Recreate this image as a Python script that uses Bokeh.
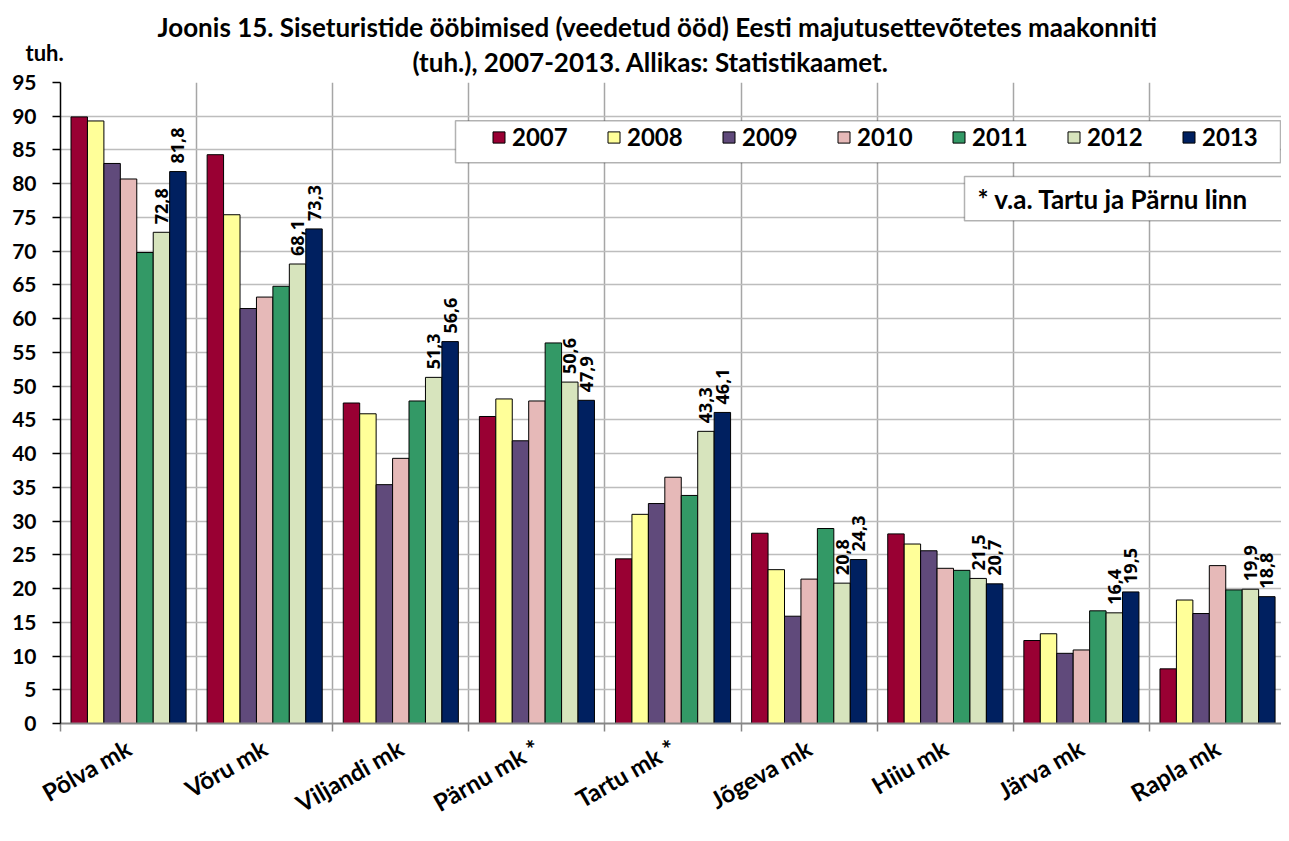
import math
from bokeh.plotting import figure
from bokeh.models import FixedTicker, Legend, LegendItem, Label, BoxAnnotation, Title
from bokeh.core.properties import value
from bokeh.embed import file_html
from bokeh.resources import INLINE

# ---------------- data ----------------
counties = ["Põlva mk", "Võru mk", "Viljandi mk", "Pärnu mk *", "Tartu mk *",
            "Jõgeva mk", "Hiiu mk", "Järva mk", "Rapla mk"]
years = ["2007", "2008", "2009", "2010", "2011", "2012", "2013"]
colors = ["#990033", "#FFFF99", "#604A7B", "#E6B9B8", "#339966", "#D7E4BD", "#002060"]

v2007 = [89.9, 84.3, 47.5, 45.5, 24.4, 28.2, 28.1, 12.3, 8.1]
v2008 = [89.3, 75.4, 45.9, 48.1, 31.0, 22.8, 26.6, 13.3, 18.3]
v2009 = [83.0, 61.5, 35.4, 41.9, 32.6, 15.9, 25.6, 10.4, 16.3]
v2010 = [80.7, 63.2, 39.3, 47.8, 36.5, 21.4, 23.0, 10.9, 23.4]
v2011 = [69.8, 64.8, 47.8, 56.4, 33.8, 28.9, 22.7, 16.7, 19.8]
v2012 = [72.8, 68.1, 51.3, 50.6, 43.3, 20.8, 21.5, 16.4, 19.9]
v2013 = [81.8, 73.3, 56.6, 47.9, 46.1, 24.3, 20.7, 19.5, 18.8]
series = [v2007, v2008, v2009, v2010, v2011, v2012, v2013]
labelled_years = ["2012", "2013"]

y_ticks = list(range(0, 96, 5))

title_line1 = "Joonis 15. Siseturistide ööbimised (veedetud ööd) Eesti majutusettevõtetes maakonniti"
title_line2 = "(tuh.), 2007-2013. Allikas: Statistikaamet."
unit_label = "tuh."
note_text = "* v.a. Tartu ja Pärnu linn"

# ---------------- layout ----------------
FONT = "Lato"
W, H = 1281, 833
F_LEFT, F_TOP, F_BOTTOM = 60, 82, 736
X_END = 8.97
Y_END = 95
PX = (W - F_LEFT) / X_END
PY = (F_BOTTOM - F_TOP) / Y_END


def dx(px):
    return (px - F_LEFT) / PX


def dy(py):
    return (F_BOTTOM - py) / PY


group_frac = 0.8455
bw = group_frac / len(years)

p = figure(width=W, height=H, x_range=(0, X_END), y_range=(0, Y_END),
           output_backend="svg", toolbar_location=None,
           min_border_left=F_LEFT, min_border_right=0, min_border_top=F_TOP,
           min_border_bottom=H - F_BOTTOM)
p.outline_line_color = None
p.background_fill_color = "white"
p.border_fill_color = "white"

centers = [i + 0.5 for i in range(len(counties))]
bounds = [i for i in range(len(counties) + 1)]

# grids
p.ygrid.ticker = FixedTicker(ticks=y_ticks)
p.ygrid.grid_line_color = "#bdbdbd"
p.ygrid.grid_line_width = 1.5
p.xgrid.ticker = FixedTicker(ticks=bounds)
p.xgrid.grid_line_color = "#a6a6a6"
p.xgrid.grid_line_width = 1.5

# x axis
xa = p.xaxis[0]
xa.ticker = FixedTicker(ticks=centers, minor_ticks=bounds)
xa.major_label_overrides = {c: name for c, name in zip(centers, counties)}
xa.major_label_orientation = math.pi / 6
xa.major_tick_out = 0
xa.major_tick_in = 0
xa.minor_tick_out = 8
xa.minor_tick_in = 0
xa.minor_tick_line_color = "#868686"
xa.minor_tick_line_width = 1.5
xa.axis_line_color = "#868686"
xa.axis_line_width = 2
xa.major_label_standoff = 14
xa.major_label_text_font = FONT
xa.major_label_text_font_style = "bold"
xa.major_label_text_font_size = "24px"
xa.major_label_text_color = "black"

# y axis
ya = p.yaxis[0]
ya.ticker = FixedTicker(ticks=y_ticks)
ya.major_tick_out = 8
ya.major_tick_in = 0
ya.minor_tick_out = 0
ya.minor_tick_in = 0
ya.axis_line_color = "black"
ya.axis_line_width = 1.5
ya.major_tick_line_color = "black"
ya.major_tick_line_width = 1.5
ya.major_label_standoff = 16
ya.major_label_text_font = FONT
ya.major_label_text_font_style = "bold"
ya.major_label_text_font_size = "21px"
ya.major_label_text_color = "black"

# bars
items = []
for j, (yr, vals, col) in enumerate(zip(years, series, colors)):
    xs = [c + (j - (len(years) - 1) / 2) * bw for c in centers]
    r = p.vbar(x=xs, top=vals, width=bw, bottom=0, fill_color=col,
               line_color="black", line_width=1)
    items.append(LegendItem(label=yr, renderers=[r]))
    if yr in labelled_years:
        txt = [f"{v:.1f}".replace(".", ",") for v in vals]
        p.text(x=xs, y=vals, text=txt, angle=math.pi / 2, text_align="left",
               text_baseline="middle", y_offset=-8, text_font=value("Open Sans"),
               text_font_style="bold", text_font_size="18px", text_color="black")

# legend frame + legend
p.add_layout(BoxAnnotation(left=dx(455), right=dx(1280),
                           bottom=dy(164), top=dy(121),
                           fill_color="white", fill_alpha=1.0,
                           line_color="black", line_width=1.5))
legend = Legend(items=items, orientation="horizontal", location=(431, F_BOTTOM - 164),
                padding=8, margin=0, spacing=35, label_standoff=6,
                glyph_width=15, glyph_height=14, label_width=59,
                label_text_font=FONT, label_text_font_style="bold",
                label_text_font_size="24px", label_text_color="black",
                border_line_color=None, background_fill_alpha=0.0)
p.add_layout(legend, "center")

# note box
p.add_layout(BoxAnnotation(left=dx(964), right=X_END + 0.5,
                           bottom=dy(223), top=dy(178),
                           fill_color="white", fill_alpha=1.0,
                           line_color="black", line_width=1.5))
p.add_layout(Label(x=dx(977), y=dy(201), text=note_text,
                   text_align="left", text_baseline="middle", text_font=FONT,
                   text_font_style="bold", text_font_size="26px", text_color="black"))

# titles above the frame (first added sits closest to the frame)
TF = "26px"
p.add_layout(Title(text=title_line2, align="left", offset=352, standoff=10,
                   text_font=FONT, text_font_style="bold", text_font_size=TF,
                   text_color="black"), "above")
p.add_layout(Title(text=title_line1, align="left", offset=97, standoff=-8,
                   text_font=FONT, text_font_style="bold", text_font_size=TF,
                   text_color="black"), "above")
p.add_layout(Title(text=unit_label, align="left", offset=25 - F_LEFT, standoff=-107,
                   text_font=FONT, text_font_style="bold", text_font_size="22px",
                   text_color="black"), "above")

open("out.html", "w").write(file_html(p, INLINE))
